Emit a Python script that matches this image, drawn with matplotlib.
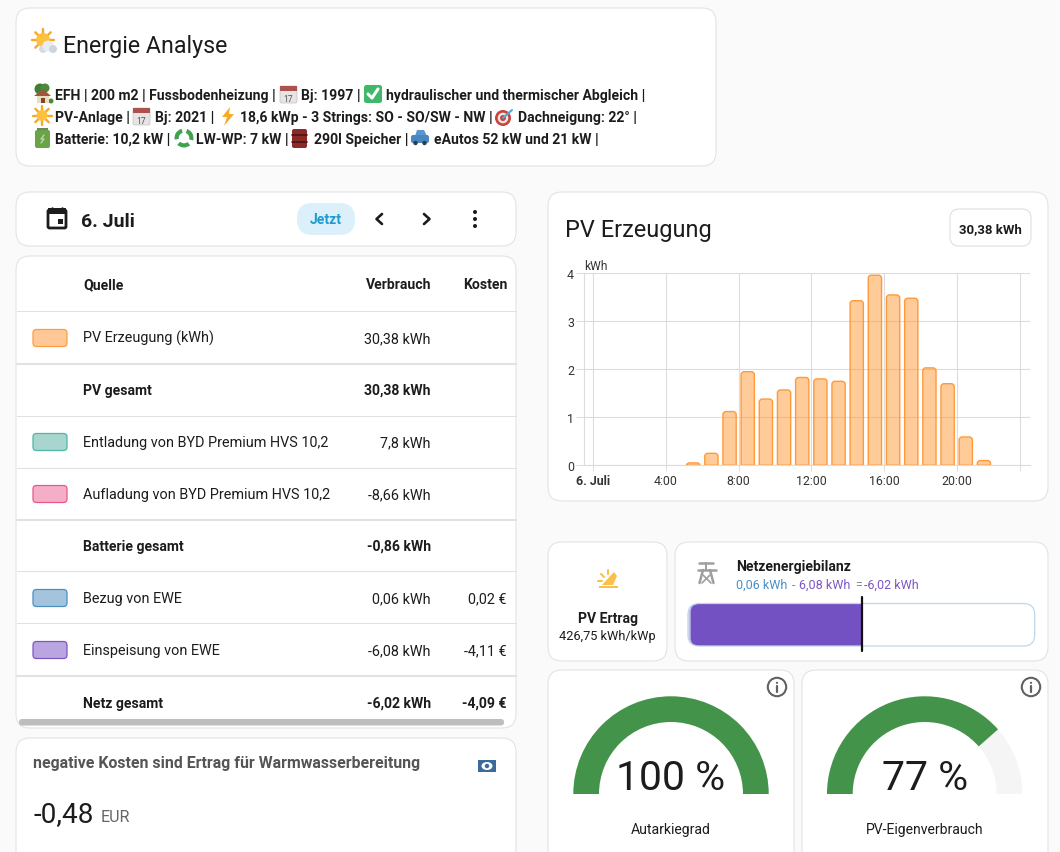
import matplotlib
matplotlib.use("Agg")
import matplotlib.pyplot as plt
from matplotlib.patches import Circle, Ellipse, FancyBboxPatch, PathPatch, Polygon, Rectangle, Wedge
from matplotlib.path import Path

plt.rcParams["font.family"] = ["Roboto", "DejaVu Sans"]

W, H = 1060, 853
INK = "#1c1c1c"
PX = 0.72  # css px -> pt at dpi 100

hours = [5, 6, 7, 8, 9, 10, 11, 12, 13, 14, 15, 16, 17, 18, 19, 20, 21]
pv_kwh = [0.05, 0.25, 1.12, 1.95, 1.38, 1.57, 1.83, 1.80, 1.75, 3.43, 3.96, 3.55, 3.48, 2.03, 1.70, 0.59, 0.10]
hour_ticks = [0, 4, 8, 12, 16, 20, 23.5]
hour_labels = ["6. Juli", "4:00", "8:00", "12:00", "16:00", "20:00", ""]

table_names = ["PV Erzeugung (kWh)", "PV gesamt", "Entladung von BYD Premium HVS 10,2",
               "Aufladung von BYD Premium HVS 10,2", "Batterie gesamt", "Bezug von EWE",
               "Einspeisung von EWE", "Netz gesamt"]
table_usage = ["30,38 kWh", "30,38 kWh", "7,8 kWh", "-8,66 kWh", "-0,86 kWh", "0,06 kWh", "-6,08 kWh", "-6,02 kWh"]
table_cost = ["", "", "", "", "", "0,02 €", "-4,11 €", "-4,09 €"]
table_fill = ["#ffc896", None, "#a8d5cd", "#f5aec8", None, "#a4c4de", "#b9a5e0", None]
table_edge = ["#ff9e40", None, "#4db6a4", "#e9588b", None, "#4a90c2", "#7e57c2", None]

grid_import = 0.06
grid_export = 6.08
grid_net = -6.02
autarky = 100
self_use = 77

header_lines = [
    [(55.4, "EFH | 200 m2 | Fussbodenheizung |"), (301, "Bj: 1997 |"), (386.5, "hydraulischer und thermischer Abgleich |")],
    [(55, "PV-Anlage |"), (154.6, "Bj: 2021 |"), (240, "18,6 kWp - 3 Strings: SO - SO/SW - NW |"), (518, "Dachneigung: 22° |")],
    [(55, "Batterie: 10,2 kW |"), (196, "LW-WP: 7 kW |"), (313.5, "290l Speicher |"), (433.6, "eAutos 52 kW und 21 kW |")],
]

fig = plt.figure(figsize=(W / 100, H / 100), dpi=100, facecolor="#fafafa")
ax = fig.add_axes([0, 0, 1, 1])
ax.set_xlim(0, W)
ax.set_ylim(H, 0)
ax.axis("off")


def label(x, y, s, size=14, weight="normal", color=INK, ha="left"):
    ax.text(x, y, s, fontsize=size * PX, fontweight=weight, color=color, ha=ha, va="baseline", zorder=5)


def rbox(x0, y0, x1, y1, r, fc="white", ec="#e2e2e2", lw=0.75, z=1):
    ax.add_patch(FancyBboxPatch((x0 + r, y0 + r), x1 - x0 - 2 * r, y1 - y0 - 2 * r,
                                boxstyle=f"round,pad={r},rounding_size={r}",
                                fc=fc, ec=ec, lw=lw, zorder=z))


def line(xs, ys, color=INK, lw=1.5, z=4):
    ax.plot(xs, ys, color=color, lw=lw, zorder=z, solid_capstyle="round")


def poly(pts, color, z=4):
    ax.add_patch(Polygon(pts, closed=True, fc=color, ec="none", zorder=z))


def circ(x, y, r, color, z=4):
    ax.add_patch(Circle((x, y), r, fc=color, ec="none", zorder=z))


def sun(x, y, r=6, reach=10):
    for dx, dy in [(1, 0), (-1, 0), (0, 1), (0, -1), (.7, .7), (-.7, .7), (.7, -.7), (-.7, -.7)]:
        line([x + dx * r, x + dx * reach], [y + dy * r, y + dy * reach], "#f9a825", 1.7)
    circ(x, y, r, "#fdc13f")


def calendar(x, y):
    rbox(x, y - 8, x + 17, y + 9, 1.5, fc="#e8e4e4", ec="#c4c0c0", lw=0.5, z=4)
    ax.add_patch(Rectangle((x, y - 8), 17, 5, fc="#a9524f", zorder=4))
    ax.text(x + 8.5, y + 7, "17", fontsize=6.2, color="#555555", ha="center", zorder=5)


def house(x, y):
    circ(x + 6, y - 5, 5.5, "#3f7f35")
    circ(x + 11, y - 6, 4.5, "#4b8a3c")
    circ(x + 17, y + 7, 2.5, "#4b8a3c")
    ax.add_patch(Rectangle((x + 3, y + 0), 12, 9, fc="#ecdcc0", zorder=4))
    poly([(x, y + 2), (x + 9, y - 5), (x + 17, y + 2)], "#a0583c", 5)
    ax.add_patch(Rectangle((x + 7, y + 4), 3.5, 5, fc="#7a4a2a", zorder=5))


def check(x, y):
    rbox(x, y - 9, x + 18, y + 9, 2.5, fc="#3fb86a", ec="none", z=4)
    line([x + 4, x + 8, x + 14], [y, y + 4, y - 5], "white", 2.2, 5)


def bolt(x, y, color="#f7a928", z=4):
    poly([(x + 9, y - 9), (x + 1, y + 1), (x + 6, y + 1), (x + 3, y + 10), (x + 13, y - 2), (x + 8, y - 2)], color, z)


def target(x, y):
    circ(x, y, 8, "#c8453f")
    circ(x, y, 5.3, "#f1e6e0", 5)
    circ(x, y, 3, "#c8453f", 6)
    line([x, x + 9], [y, y - 8], "#5aa5d8", 1.5, 7)


def battery(x, y):
    ax.add_patch(Rectangle((x + 2, y - 10), 11, 3, fc="#6b8a5a", zorder=4))
    rbox(x, y - 8, x + 15, y + 10, 2, fc="#6aa348", ec="none", z=4)
    line([x + 9, x + 6, x + 9, x + 6], [y - 3, y + 1, y + 1, y + 5], "#b9d8a5", 1, 5)


def recycle(x, y):
    for a, b in [(-70, 15), (50, 135), (170, 255)]:
        ax.add_patch(Wedge((x, y), 9.5, a, b, width=4.2, fc="#3fa34d", ec="none", zorder=4))


def barrel(x, y):
    rbox(x, y - 9, x + 15, y + 10, 2, fc="#8c2a28", ec="none", z=4)
    line([x, x + 15], [y - 3, y - 3], "#4a1413", 1.2, 5)
    line([x, x + 15], [y + 4, y + 4], "#4a1413", 1.2, 5)


def car(x, y):
    poly([(x + 4, y - 1), (x + 6, y - 7), (x + 13, y - 7), (x + 16, y - 1)], "#5b96cf")
    rbox(x, y - 2, x + 18, y + 6, 2, fc="#4a86c0", ec="none", z=4)
    circ(x + 4.5, y + 6, 2.2, "#2c3e50", 5)
    circ(x + 13.5, y + 6, 2.2, "#2c3e50", 5)


def info(x, y):
    ax.add_patch(Circle((x, y), 9.2, fc="none", ec="#616161", lw=1.5, zorder=4))
    line([x, x], [y - 1, y + 4.5], "#616161", 1.6)
    circ(x, y - 4.2, 1.1, "#616161")


# cards
rbox(16, 9, 716, 167, 14)
rbox(16, 193, 516, 247, 14)
rbox(16, 257, 516, 729, 14)
rbox(16, 739, 516, 880, 14)
rbox(548, 193, 1048, 502, 14)
rbox(548, 543, 667, 662, 14)
rbox(675, 543, 1048, 662, 14)
rbox(548, 671, 794, 880, 14)
rbox(802, 671, 1048, 880, 14)

# header card
sun(43, 41, 7, 11)
circ(43, 50, 4, "#d5dce4", 5)
circ(48, 47, 5.5, "#e9edf1", 5)
circ(53, 50, 4, "#cdd5dd", 5)
label(63, 53, "Energie Analyse", 23.3)
for row_y, segments in zip([100, 122, 144], header_lines):
    for seg_x, seg in segments:
        label(seg_x, row_y, seg, 14, "bold")
house(34, 95)
calendar(280, 95)
check(364, 95)
sun(42, 116.5, 5.5, 9.5)
calendar(133, 117)
bolt(221, 117)
target(503, 119)
battery(35, 139)
recycle(184, 139)
barrel(292, 139)
car(411, 138)

# date bar
rbox(48, 211, 66, 229, 1.5, fc="white", ec=INK, lw=2, z=4)
ax.add_patch(Rectangle((48, 209), 18, 6, fc=INK, zorder=4))
ax.add_patch(Rectangle((58, 220), 5, 5, fc=INK, zorder=5))
line([52, 52], [209, 212], INK, 1.8)
line([62, 62], [209, 212], INK, 1.8)
label(81, 227, "6. Juli", 19.5, "bold")
rbox(297, 204, 355, 236, 15.5, fc="#dcf0fb", ec="none", z=3)
label(326, 224, "Jetzt", 14, "bold", "#1f9bcf", "center")
line([382, 376.5, 382], [215, 220, 225], INK, 1.9)
line([424, 429.5, 424], [215, 220, 225], INK, 1.9)
for dot_y in [213, 220, 227]:
    circ(475, dot_y, 2, INK)

# table
label(83, 289, "Quelle", 14, "bold")
label(431, 289, "Verbrauch", 14, "bold", ha="right")
label(507, 289, "Kosten", 14, "bold", ha="right")
for sep_y, sep_w in [(312.3, 0.8), (365, 1.5), (416.5, 0.8), (468.5, 0.8), (520.5, 1.5), (572.3, 0.8), (624.3, 0.8), (676.8, 1.5)]:
    line([16.5, 515.5], [sep_y, sep_y], "#e2e2e2", sep_w, 2)
row_ys = [343, 395, 447, 499, 551, 603, 655, 708]
for ry, name, usage, cost, fill, edge in zip(row_ys, table_names, table_usage, table_cost, table_fill, table_edge):
    bold = fill is None
    size = 14 if bold else 14.45
    label(83, ry, name, size, "bold" if bold else "normal")
    label(431, ry, usage, size, "bold" if bold else "normal", ha="right")
    if cost:
        label(507, ry, cost, size, "bold" if bold else "normal", ha="right")
    if fill:
        rbox(33, ry - 12.5, 67, ry + 4.5, 3.5, fc=fill, ec=edge, lw=0.9, z=3)
rbox(19, 720, 504, 726.5, 3, fc="#bdbdbd", ec="none", z=3)

# cost card
label(33, 768, "negative Kosten sind Ertrag für Warmwasserbereitung", 15.9, "bold", "#555555")
ax.add_patch(Rectangle((478, 761), 18, 12, fc="#3c6a9a", zorder=4))
ax.add_patch(Ellipse((487, 767), 11, 8, fc="white", zorder=5))
circ(487, 767, 2.2, "#3c6a9a", 6)
label(33, 822, "-0,48", 28)
label(101, 822, "EUR", 16, color="#666666")

# pv chart
label(565, 237, "PV Erzeugung", 23.5)
rbox(950, 210, 1031, 247, 9, ec="#dddddd")
label(990.5, 233, "30,38 kWh", 13.3, "bold", ha="center")
label(584, 270, "kWh", 12, color="#333333")

x0, x1, y0, y1 = 583.7, 1029.7, 274.3, 466.3
bar_ax = fig.add_axes([x0 / W, 1 - y1 / H, (x1 - x0) / W, (y1 - y0) / H])
bar_ax.patch.set_alpha(0)
bar_ax.set_xlim(-0.528, 24.02)
bar_ax.set_ylim(0, 4)
bar_ax.set_xticks(hour_ticks)
bar_ax.set_xticklabels(hour_labels)
bar_ax.set_yticks([0, 1, 2, 3, 4])
bar_ax.grid(True, color="#dcdcdc", lw=0.8)
bar_ax.set_axisbelow(True)
bar_ax.tick_params(axis="both", length=4, width=0.7, color="#dcdcdc", labelsize=12.4 * PX, labelcolor="#333333", pad=2.5)
bar_ax.tick_params(axis="y", length=6, pad=1)
bar_ax.get_xticklabels()[0].set_fontweight("bold")
for side in ["top", "right"]:
    bar_ax.spines[side].set_visible(False)
for side in ["left", "bottom"]:
    bar_ax.spines[side].set_color("#dcdcdc")
    bar_ax.spines[side].set_linewidth(0.8)

bar_w, rx, ry_top = 0.73, 0.17, 0.065
for h, v in zip(hours, pv_kwh):
    left, right = h + 0.5 - bar_w / 2, h + 0.5 + bar_w / 2
    r_y = min(ry_top, v)
    verts = [(left, 0), (left, v - r_y), (left, v), (left + rx, v), (right - rx, v), (right, v), (right, v - r_y), (right, 0), (left, 0)]
    codes = [Path.MOVETO, Path.LINETO, Path.CURVE3, Path.CURVE3, Path.LINETO, Path.CURVE3, Path.CURVE3, Path.LINETO, Path.CLOSEPOLY]
    bar_ax.add_patch(PathPatch(Path(verts, codes), fc=(1, 0.596, 0.2, 0.5), ec="#ff9a3c", lw=1.0, zorder=3))

# pv yield card
poly([(599, 589), (618, 589), (618, 587), (599, 587)], "#fbbf4b")
poly([(602, 586), (614, 573), (617, 577), (613, 586)], "#fbbf4b")
for ray in [((598, 582), (602, 582)), ((601, 575), (604, 578)), ((608, 571), (608, 575))]:
    line([ray[0][0], ray[1][0]], [ray[0][1], ray[1][1]], "#fbbf4b", 1.5)
label(607.5, 623, "PV Ertrag", 14, "bold", ha="center")
label(607.5, 640, "426,75 kWh/kWp", 12.8, ha="center")

# grid balance card
line([699, 713], [564, 564], "#9e9e9e", 1.8)
line([698, 716], [570.5, 570.5], "#9e9e9e", 1.8)
line([706, 706], [564, 570.5], "#9e9e9e", 1.4)
line([703, 699.5], [571, 584], "#9e9e9e", 1.8)
line([710, 713.5], [571, 584], "#9e9e9e", 1.8)
line([703, 711], [576, 584], "#9e9e9e", 1.2)
line([710, 702], [576, 584], "#9e9e9e", 1.2)
label(736, 571, "Netzenergiebilanz", 14, "bold")
label(736, 589, f"{grid_import:.2f} kWh".replace(".", ","), 12.5, color="#4a8fc4")
label(792, 589, "-", 12.5, color="#8a8a8a")
label(798.7, 589, f"{grid_export:.2f} kWh".replace(".", ","), 12.5, color="#7e57c2")
label(855.5, 589, "=", 12.5, color="#8a8a8a")
label(864, 589, f"{grid_net:.2f} kWh".replace(".", ","), 12.5, color="#7e57c2")
centre, half = 862, 173
left_end = centre - half * abs(grid_net) / grid_export
rbox(688, 604.5, 1034.7, 647, 11, fc="white", ec="none", z=2)
rbox(688.5, 605, centre + 12, 647, 9, fc="#c9bbe8", ec="none", z=3)
rbox(left_end, 605, centre + 12, 647, 8, fc="#7451c2", ec="none", z=3)
ax.add_patch(Rectangle((centre, 604), 14, 44, fc="white", ec="none", zorder=3))
rbox(688, 604.5, 1034.7, 647, 11, fc="none", ec="#bcd8ec", lw=0.9, z=4)
line([centre, centre], [598, 651.5], "#111111", 1.6, 6)

# gauges
for cx, value, name in [(671, autarky, "Autarkiegrad"), (924.7, self_use, "PV-Eigenverbrauch")]:
    ax.add_patch(Wedge((cx, 795), 97.7, 180, 360, width=25.7, fc="#f5f5f5", ec="none", zorder=3))
    ax.add_patch(Wedge((cx, 795), 97.7, 180, 180 + 180 * value / 100, width=25.7, fc="#43944a", ec="none", zorder=4))
    label(cx, 790, f"{value} %", 41, ha="center")
    label(cx, 834, name, 14, ha="center")
info(777, 688)
info(1031, 688)

fig.savefig("out.png", dpi=100, facecolor=fig.get_facecolor())
